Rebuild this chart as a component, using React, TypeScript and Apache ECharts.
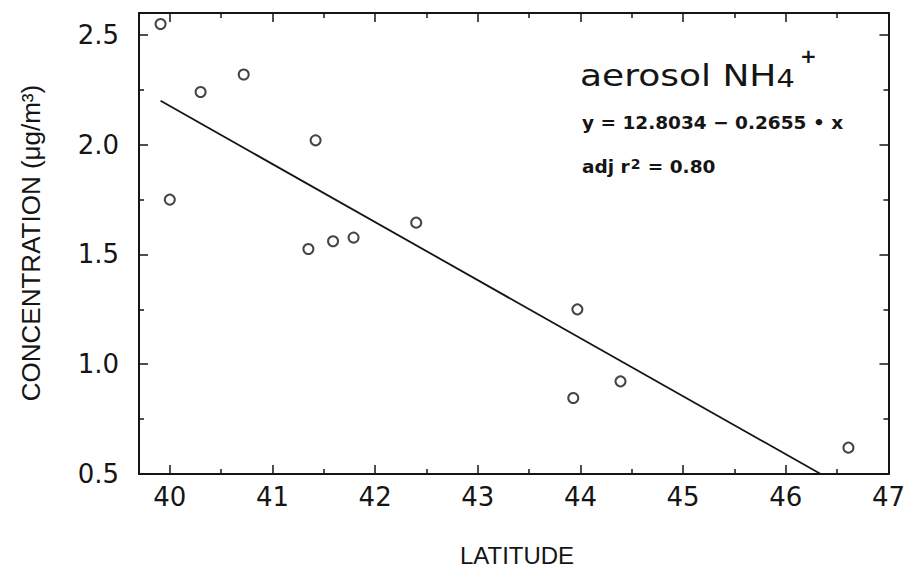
import React, { useEffect, useRef } from "react";
import * as echarts from "echarts";

const latitude = [39.91, 40.0, 40.3, 40.72, 41.42, 41.35, 41.59, 41.79, 42.4, 43.97, 44.39, 43.93, 46.61];
const concentration = [2.55, 1.75, 2.24, 2.32, 2.02, 1.525, 1.56, 1.577, 1.645, 1.25, 0.922, 0.846, 0.62];

// Regression line end points (y = 12.8034 - 0.2655 x)
const fitLatitude = [39.91, 46.34];
const fitConcentration = [2.2, 0.5];

// Axis ranges and tick labels
const xRange = [39.7, 47];
const yRange = [0.5, 2.6];
const xTickLabels = ["40", "41", "42", "43", "44", "45", "46", "47"];
const yTickLabels = ["0.5", "1.0", "1.5", "2.0", "2.5"];

const titleText = "aerosol NH";
const titleSub = "4";
const titleSup = "+";
const equationText = "y = 12.8034 \u2212 0.2655 \u2022 x";
const r2Prefix = "adj r";
const r2Sup = "2";
const r2Suffix = " = 0.80";
const xName = "LATITUDE";
const yName = "CONCENTRATION (\u03BCg/m\u00B3)";

const INK = "#151515";

export default function App() {
  const ref = useRef<HTMLDivElement>(null);

  useEffect(() => {
    document.body.style.margin = "0";
    if (!ref.current) return;
    const chart = echarts.init(ref.current, undefined, { renderer: "svg" });

    const lineStyle = { color: INK, width: 2 };
    const tickStyle = { color: INK, width: 1.5 };

    const xFormatter = (v: number) => {
      const s = String(Math.round(v * 1000) / 1000);
      return xTickLabels.indexOf(s) >= 0 ? s : "";
    };
    const yFormatter = (v: number) => {
      const s = (Math.round(v * 1000) / 1000).toFixed(1);
      return yTickLabels.indexOf(s) >= 0 && Math.abs(v - parseFloat(s)) < 1e-6 ? s : "";
    };

    const xBase = {
      type: "value",
      min: xRange[0],
      max: xRange[1],
      splitNumber: 7,
      minInterval: 1,
      maxInterval: 1,
      axisLine: { show: true, onZero: false, lineStyle },
      axisTick: { show: true, inside: true, length: 9, lineStyle: tickStyle },
      minorTick: { show: true, splitNumber: 2, length: 5, lineStyle: tickStyle },
      splitLine: { show: false },
    };
    const yBase = {
      type: "value",
      min: yRange[0],
      max: yRange[1],
      splitNumber: 5,
      minInterval: 0.5,
      maxInterval: 0.5,
      axisLine: { show: true, onZero: false, lineStyle },
      axisTick: { show: true, inside: true, length: 9, lineStyle: tickStyle },
      minorTick: { show: true, splitNumber: 2, length: 5, lineStyle: tickStyle },
      splitLine: { show: false },
    };

    const points = latitude.map((x, i) => [x, concentration[i]]);
    const fit = fitLatitude.map((x, i) => [x, fitConcentration[i]]);

    chart.setOption({
      animation: false,
      backgroundColor: "#ffffff",
      grid: { left: 139, right: 19, top: 13, bottom: 94 },
      xAxis: [
        {
          ...xBase,
          position: "bottom",
          axisLabel: {
            show: true,
            margin: 10,
            color: INK,
            fontFamily: "DejaVu Sans",
            fontSize: 26,
            formatter: xFormatter,
          },
        },
        { ...xBase, position: "top", axisLabel: { show: false } },
      ],
      yAxis: [
        {
          ...yBase,
          position: "left",
          axisLabel: {
            show: true,
            margin: 20,
            color: INK,
            fontFamily: "DejaVu Sans",
            fontSize: 26,
            formatter: yFormatter,
          },
        },
        { ...yBase, position: "right", axisLabel: { show: false } },
      ],
      series: [
        {
          type: "line",
          data: fit,
          symbol: "none",
          lineStyle: { color: INK, width: 1.8 },
          z: 2,
        },
        {
          type: "scatter",
          data: points,
          symbol: "circle",
          symbolSize: 10,
          itemStyle: { color: "#ffffff", borderColor: INK, borderWidth: 2 },
          z: 3,
        },
      ],
      graphic: [
        {
          type: "text",
          x: 580,
          y: 91,
          scaleX: 1.2,
          style: {
            text: "{a|" + titleText + "}{b|" + titleSub + "}",
            fill: INK,
            fontFamily: "DejaVu Sans",
            align: "left",
            verticalAlign: "bottom",
            rich: {
              a: { fontFamily: "DejaVu Sans", fontSize: 30, fill: INK, verticalAlign: "bottom" },
              b: { fontFamily: "DejaVu Sans", fontSize: 24, fill: INK, verticalAlign: "bottom", padding: [0, 0, 1, 0] },
            },
          },
        },
        {
          type: "text",
          x: 800,
          y: 46,
          style: {
            text: titleSup,
            fill: INK,
            fontFamily: "DejaVu Sans",
            fontWeight: "bold",
            fontSize: 20,
            align: "left",
            verticalAlign: "top",
          },
        },
        {
          type: "text",
          x: 582,
          y: 122,
          style: {
            text: equationText,
            fill: INK,
            fontFamily: "DejaVu Sans",
            fontWeight: "bold",
            fontSize: 18.5,
            align: "left",
            verticalAlign: "middle",
          },
        },
        {
          type: "text",
          x: 582,
          y: 166,
          style: {
            text: "{a|" + r2Prefix + "}{s|" + r2Sup + "}{a|" + r2Suffix + "}",
            fill: INK,
            align: "left",
            verticalAlign: "middle",
            rich: {
              a: { fontFamily: "DejaVu Sans", fontWeight: "bold", fontSize: 18.5, fill: INK, verticalAlign: "bottom" },
              s: {
                fontFamily: "DejaVu Sans",
                fontWeight: "bold",
                fontSize: 14,
                fill: INK,
                verticalAlign: "top",
                padding: [0, 1, 0, 1],
              },
            },
          },
        },
        {
          type: "text",
          x: 517,
          y: 555,
          style: {
            text: xName,
            fill: INK,
            fontFamily: "Liberation Sans",
            fontSize: 24,
            align: "center",
            verticalAlign: "middle",
          },
        },
        {
          type: "text",
          x: 31,
          y: 243,
          rotation: Math.PI / 2,
          style: {
            text: yName,
            fill: INK,
            fontFamily: "Liberation Sans",
            fontSize: 26,
            align: "center",
            verticalAlign: "middle",
          },
        },
      ],
    });

    return () => chart.dispose();
  }, []);

  return <div ref={ref} style={{ width: 908, height: 568 }} />;
}
